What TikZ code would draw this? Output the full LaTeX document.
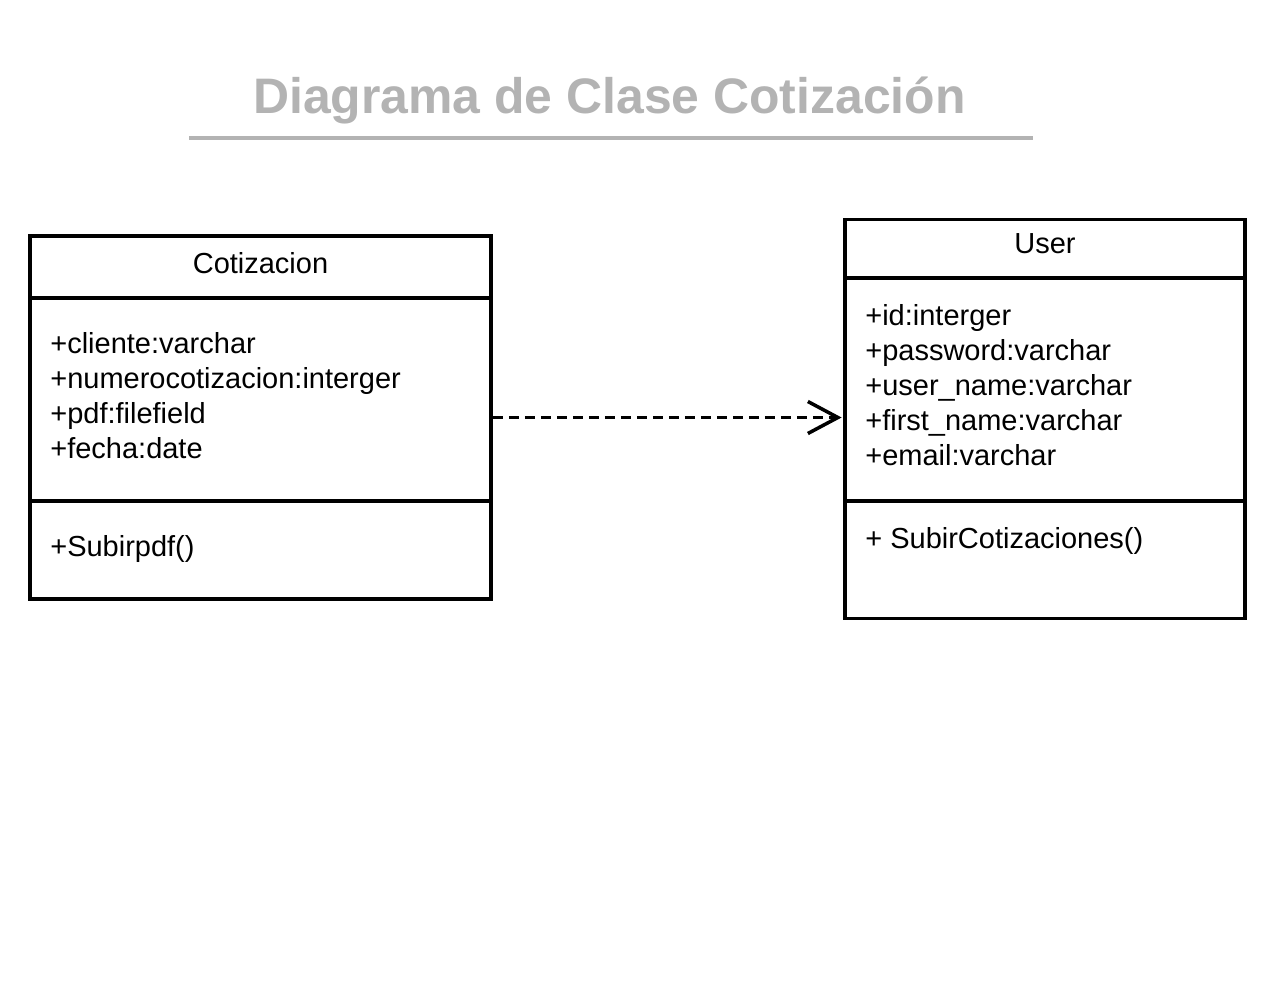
\documentclass[tikz,border=0pt]{standalone}
\usepackage{fontspec}
\setmainfont{Liberation Sans}
\usepackage{xcolor}
\usepackage{tikz}
\usetikzlibrary{
  arrows.meta,
  positioning,
  calc
}
\definecolor{titlegray}{HTML}{B3B3B3}

\begin{document}
\begin{tikzpicture}[
  x=0.02cm, y=-0.02cm,
  classbox/.style={draw, line width=2.2pt, inner sep=0pt},
  divider/.style={line width=2.2pt},
  member/.style={inner sep=0pt, anchor=base west,
                 font=\fontsize{16.5pt}{19.9pt}\selectfont},
  classname/.style={inner sep=0pt, anchor=base,
                    font=\fontsize{16.5pt}{19.9pt}\selectfont},
  dependency/.style={line width=2.2pt, dash pattern=on 0.2cm off 0.12cm,
                     -{Straight Barb[length=0.6cm, width=0.64cm, line width=2pt]}}
]
  \useasboundingbox (0,0) rectangle (1272,981);

  % Title with rule
  \node[inner sep=0pt, text=titlegray,
        font=\fontsize{28.4pt}{34pt}\selectfont\bfseries]
    (title) at (609.5,100) {Diagrama de Clase Cotización};
  \draw[titlegray, line width=1.8pt] (189,138) -- (1033,138);

  % Class: Cotizacion
  \node[classbox, minimum width=9.22cm, minimum height=7.26cm]
    (cotiz) at (260.5,417.5) {};
  \draw[divider] (cotiz.west |- 0,298) -- (cotiz.east |- 0,298);
  \draw[divider] (cotiz.west |- 0,501) -- (cotiz.east |- 0,501);
  \node[classname] (cotizname) at (260.5,273) {Cotizacion};
  \foreach \txt [count=\i] in {+cliente:varchar, +numerocotizacion:interger,
                               +pdf:filefield, +fecha:date}
    \node[member] (cattr\i) at (50,{353+35*(\i-1)}) {\txt};
  \node[member] (cop1) at (50,556) {+Subirpdf()};

  % Class: User
  \node[classbox, minimum width=8cm, minimum height=7.98cm]
    (user) at (1045,419) {};
  \draw[divider] (user.west |- 0,278) -- (user.east |- 0,278);
  \draw[divider] (user.west |- 0,501) -- (user.east |- 0,501);
  \node[classname] (username) at (1045,253) {User};
  \foreach \txt [count=\i] in {+id:interger, +password:varchar,
                               +user\_name:varchar, +first\_name:varchar,
                               +email:varchar}
    \node[member] (uattr\i) at (865,{325+35*(\i-1)}) {\txt};
  \node[member] (uop1) at (865,548) {+ SubirCotizaciones()};

  % Dependency
  \draw[dependency] (cotiz.east) -- ([xshift=-0.03cm]user.west |- cotiz.east);

\end{tikzpicture}
\end{document}
